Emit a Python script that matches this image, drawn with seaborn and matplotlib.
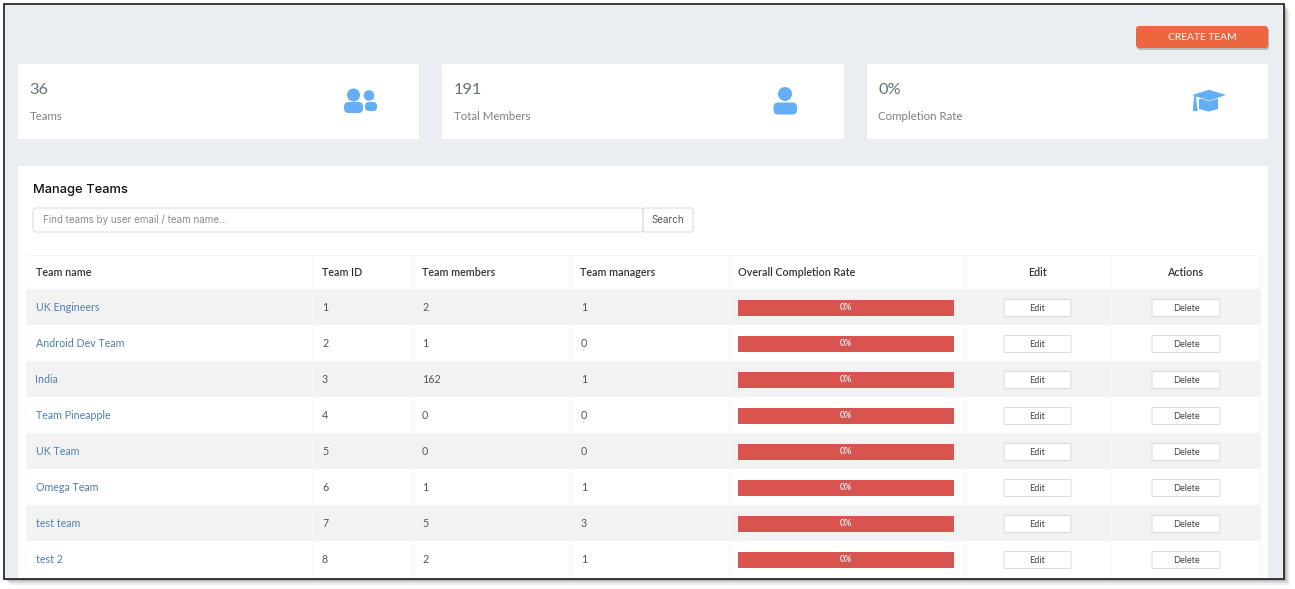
import matplotlib.pyplot as plt
import seaborn as sns
from matplotlib.patches import Circle, FancyBboxPatch, Polygon, Rectangle

# =====================================================
# Data
# =====================================================

stat_values = ["36", "191", "0%"]
stat_labels = ["Teams", "Total Members", "Completion Rate"]

column_names = ["Team name", "Team ID", "Team members", "Team managers",
                "Overall Completion Rate", "Edit", "Actions"]

team_names = ["UK Engineers", "Android Dev Team", "India", "Team Pineapple",
              "UK Team", "Omega Team", "test team", "test 2"]
team_ids = [1, 2, 3, 4, 5, 6, 7, 8]
team_members = [2, 1, 162, 0, 0, 1, 5, 2]
team_managers = [1, 0, 1, 0, 0, 1, 3, 1]
completion_rates = [0, 0, 0, 0, 0, 0, 0, 0]
bar_track = [100, 100, 100, 100, 100, 100, 100, 100]

# =====================================================
# Setup
# =====================================================

W, H = 1295, 589
BG = "#EAEEF3"
BLUE = "#64AEF5"
TEXT = "#4F555C"

sns.set_theme(style="white")
plt.rcParams["font.family"] = ["Lato", "DejaVu Sans"]

fig = plt.figure(figsize=(W / 100, H / 100), dpi=100, facecolor="white")

ax = fig.add_axes([0, 0, 1, 1])
ax.set_xlim(0, W)
ax.set_ylim(H, 0)
ax.axis("off")


def box(x0, y0, x1, y1, color, z=1, **kw):
    ax.add_patch(Rectangle((x0, y0), x1 - x0, y1 - y0, facecolor=color,
                           edgecolor="none", zorder=z, **kw))


def rounded(x0, y0, x1, y1, face, edge="none", r=2.0, z=3, lw=0.7):
    ax.add_patch(FancyBboxPatch((x0 + r, y0 + r), x1 - x0 - 2 * r, y1 - y0 - 2 * r,
                                boxstyle=f"round,pad={r},rounding_size={r}",
                                facecolor=face, edgecolor=edge, linewidth=lw, zorder=z))


# =====================================================
# Window frame and shadow
# =====================================================

for off, alpha in [(6, 0.08), (4, 0.14), (2, 0.25)]:
    box(4 + off, 4 + off, 1284 + off, 579 + off, "#444444", z=0, alpha=alpha)
box(4, 4, 1284, 579, BG, z=0.5)

# =====================================================
# Top button and stat cards
# =====================================================

rounded(1137, 28, 1269, 50, "#B9B9B9", r=3, z=1)
rounded(1136, 26, 1268, 48, "#EC6640", r=3, z=2)
ax.text(1202.5, 37.5, "CREATE TEAM", color="white", fontsize=7.4, ha="center", va="center", zorder=4)

card_edges = [(18, 419), (442, 844), (867, 1268)]
for (x0, x1), value, label in zip(card_edges, stat_values, stat_labels):
    box(x0, 64, x1, 139, "white")
    ax.text(x0 + 11.5, 90, value, color="#66717E", fontsize=11.8,
            ha="left", va="center", zorder=4)
    ax.text(x0 + 11.5, 116.5, label, color="#808080", fontsize=8.25, ha="left", va="center", zorder=4)

# people icon
ax.add_patch(Circle((353.5, 95), 6.5, color=BLUE, lw=0, zorder=4))
ax.add_patch(Circle((369, 95.5), 5.3, color=BLUE, lw=0, zorder=4))
rounded(365, 102, 377, 111, BLUE, r=4, z=4)
rounded(344, 102, 364, 113, "white", r=5, z=4.5, lw=1.5)
rounded(344, 102, 363, 113, BLUE, r=4.5, z=5)

# single person icon
ax.add_patch(Circle((785, 94), 7, color=BLUE, lw=0, zorder=4))
rounded(773.5, 102.5, 797, 114.5, BLUE, r=4.5, z=4)

# graduation cap icon
ax.add_patch(Polygon([(1199, 99), (1218, 99), (1218, 109), (1208.5, 111.5), (1199, 109)],
                     closed=True, color=BLUE, lw=0, zorder=4))
ax.add_patch(Polygon([(1191, 95), (1209, 89.5), (1227, 95), (1209, 101)],
                     closed=True, facecolor=BLUE, edgecolor="white", lw=0.4, zorder=5))
ax.add_patch(Polygon([(1194, 96), (1196, 96), (1197.5, 111), (1192.8, 111)],
                     closed=True, color=BLUE, lw=0, zorder=5))

# =====================================================
# Manage Teams panel
# =====================================================

box(18, 166, 1268, 578.5, "white")
ax.text(33, 189.5, "Manage Teams", color="#111111", fontsize=9.3, fontfamily="Inter",
        fontweight="medium", ha="left", va="center", zorder=4)

rounded(33, 208, 643, 232, "white", edge="#D8D8D8", r=3)
ax.text(43, 220, "Find teams by user email / team name...", color="#8C8C8C", fontsize=7.1,
        fontfamily="Inter", ha="left", va="center", zorder=4)
rounded(643, 208, 693, 232, "white", edge="#D8D8D8", r=2)
ax.text(668, 220, "Search", color="#555555", fontsize=7.1, fontfamily="Inter",
        ha="center", va="center", zorder=4)

# =====================================================
# Table
# =====================================================

col_edges = [26, 312, 412, 571, 729, 964, 1111, 1260]
row_top = 289
row_h = 36
n_rows = len(team_names)

box(26, 255, 1260, 578, "white", z=1.5)
for i in range(n_rows):
    if i % 2 == 0:
        box(26, row_top + i * row_h, 1260, min(row_top + (i + 1) * row_h, 578), "#F2F2F2", z=1.6)

for x in col_edges:
    ax.plot([x, x], [255, 578], color="#F6F6F6", lw=0.7, zorder=1.8)
ax.plot([26, 1260], [255, 255], color="#F6F6F6", lw=0.7, zorder=1.8)

for j, name in enumerate(column_names):
    centered = name in ("Edit", "Actions")
    x = (col_edges[j] + col_edges[j + 1]) / 2 if centered else col_edges[j] + 9.5
    ax.text(x, 272, name, color="#333333", fontsize=7.75, fontweight="semibold",
            ha="center" if centered else "left", va="center", zorder=4)

for i in range(n_rows):
    y = row_top + row_h * (i + 0.5)
    ax.text(35.5, y + 0.3, team_names[i], color="#4F7FB0", fontsize=7.7, ha="left", va="center", zorder=4)
    ax.text(322, y + 0.3, str(team_ids[i]), color=TEXT, fontsize=7.7, ha="left", va="center", zorder=4)
    ax.text(422, y + 0.3, str(team_members[i]), color=TEXT, fontsize=7.7, ha="left", va="center", zorder=4)
    ax.text(581, y + 0.3, str(team_managers[i]), color=TEXT, fontsize=7.7, ha="left", va="center", zorder=4)

    rounded(1004, y - 7.5, 1071, y + 9.5, "white", edge="#DADADA", r=1.2, z=4)
    ax.text(1037.5, y + 1.2, "Edit", color="#444444", fontsize=6.6, ha="center", va="center", zorder=5)
    rounded(1152, y - 7.5, 1220, y + 9.5, "white", edge="#DADADA", r=1.2, z=4)
    ax.text(1186, y + 1.2, "Delete", color="#444444", fontsize=6.6, ha="center", va="center", zorder=5)

# =====================================================
# Completion bars
# =====================================================

bar_ax = fig.add_axes([738 / W, 1 - (row_top + 1 + n_rows * row_h) / H, (954 - 738) / W, n_rows * row_h / H])
bar_ax.patch.set_alpha(0)

sns.barplot(
    x=bar_track,
    y=team_names,
    orient="h",
    color="#D9534F",
    saturation=1,
    width=0.47,
    linewidth=0,
    ax=bar_ax
)

bar_ax.set_xlim(0, 100)
bar_ax.axis("off")

for container in bar_ax.containers:
    bar_ax.bar_label(
        container,
        labels=[f"{r}%" for r in completion_rates],
        label_type="center",
        color="white",
        fontsize=6.4,
        fontweight="semibold"
    )

# frame line on top of everything
frame_ax = fig.add_axes([0, 0, 1, 1])
frame_ax.set_xlim(0, W)
frame_ax.set_ylim(H, 0)
frame_ax.axis("off")
frame_ax.add_patch(Rectangle((4, 4), 1280, 575, facecolor="none", edgecolor="#2A2A2A", linewidth=1.3))

plt.savefig("out.png", dpi=100)
plt.close()
